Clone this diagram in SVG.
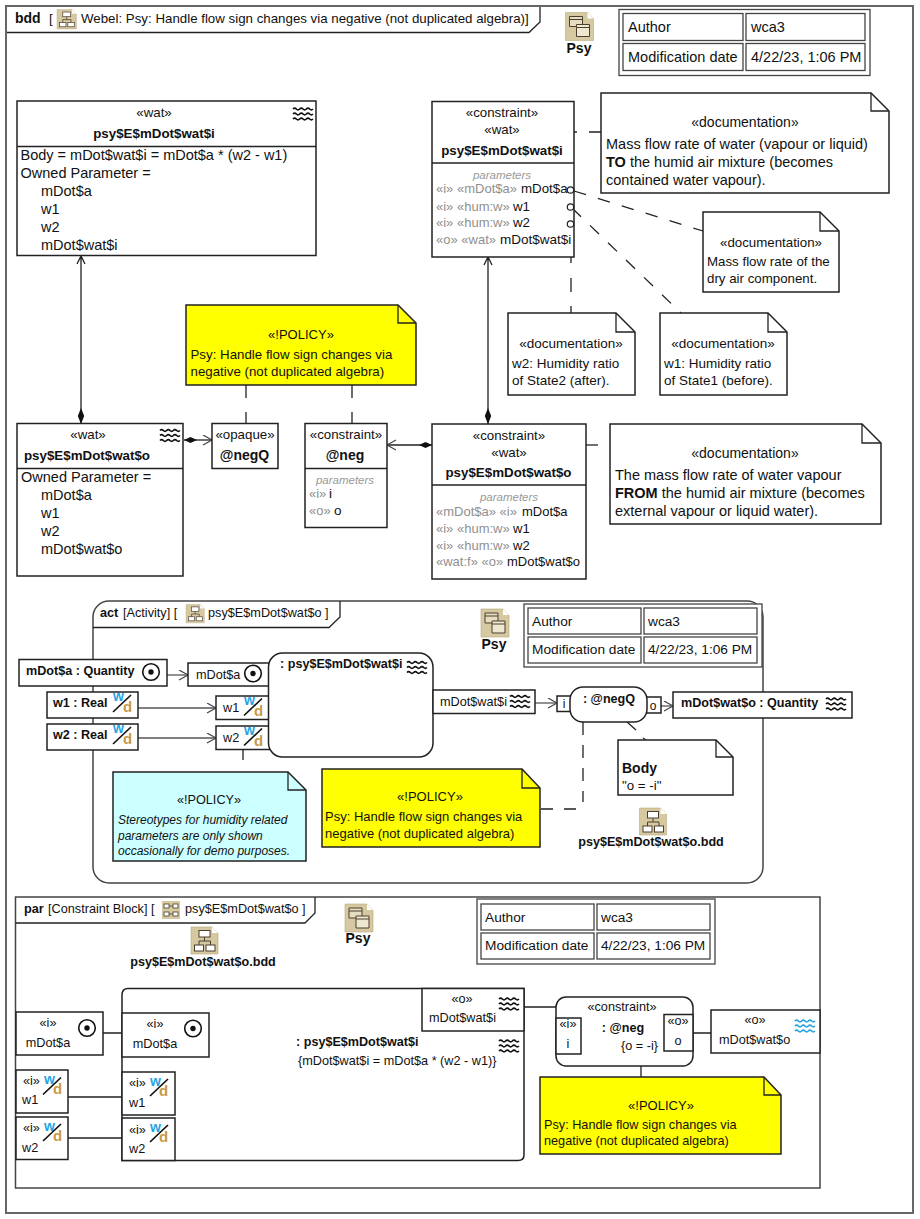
<svg xmlns="http://www.w3.org/2000/svg" width="920" height="1219" viewBox="0 0 920 1219">
<style>
text{font-family:"Liberation Sans",Arial,sans-serif;font-size:14.5px;fill:#111}
.b{font-weight:bold}
.m{text-anchor:middle}
.g{fill:#8f8f8f}
.st{font-size:13.3px}
.bb{font-size:13.35px;font-weight:bold}
.p{font-size:11.5px;font-style:italic;fill:#999;text-anchor:middle}
.n{font-size:13.3px}
.n3{font-size:13px}
.r{font-size:13.5px}
.h{font-size:12.7px}
.hb{font-size:12.6px;font-weight:bold}
.tb{font-size:13.7px}
.i{font-size:12px;font-style:italic}
.pm{font-size:13px}
.wl{font-size:14px;font-weight:bold;fill:#29a3e0}
.dl{font-size:15px;font-weight:bold;fill:#c89a48}
.box{fill:#fff;stroke:#222;stroke-width:1.5}
.tbl{fill:#fff;stroke:#444;stroke-width:1.3}
.note{stroke:#222;stroke-width:1.5;fill:#fff}
.y{fill:#ffff00}
.c{fill:#ccffff}
.l{fill:none;stroke:#222;stroke-width:1.3}
.gl{fill:none;stroke:#555;stroke-width:1.3}
.d{fill:none;stroke:#222;stroke-width:1.3;stroke-dasharray:12.500 12.500}
.fr{fill:none;stroke:#666;stroke-width:2}
.ff{fill:none;stroke:#444;stroke-width:1.5}
.sl{stroke:#111;stroke-width:1.7}
</style>
<defs>
<marker id="open" markerWidth="12" markerHeight="12" refX="10" refY="5.500" orient="auto" markerUnits="userSpaceOnUse"><path d="M1 0.500L10 5.500L1 10.500" fill="none" stroke="#444" stroke-width="1.200"/></marker>
<path id="w3" d="M0 2q1.670-1.700 3.330 0t3.330 0 3.330 0 3.330 0 3.330 0 3.330 0M0 7q1.670-1.700 3.330 0t3.330 0 3.330 0 3.330 0 3.330 0 3.330 0M0 12q1.670-1.700 3.330 0t3.330 0 3.330 0 3.330 0 3.330 0 3.330 0" fill="none"/>
<use id="wave" href="#w3" stroke="#111" stroke-width="1.700"/>
<use id="waveb" href="#w3" stroke="#29a3e0" stroke-width="1.700"/>
<g id="dot"><circle r="8.300" fill="#fff" stroke="#111" stroke-width="1.600"/><circle r="2.700" fill="#111"/></g>
<g id="dg"><path d="M0 0H21L27 6V27H0Z" fill="#d6c8a0" stroke="#b8a97f" stroke-width=".6"/><path d="M21 0L27 6H21Z" fill="#fff"/><g fill="#fff" stroke="#4a4030" stroke-width="1"><rect x="8" y="3.500" width="11" height="6.500"/><rect x="3.500" y="18" width="9" height="6"/><rect x="15" y="18" width="9" height="6"/></g><path d="M13.500 10V14M8 18V14H19.500V18" fill="none" stroke="#4a4030" stroke-width="1"/></g>
<g id="pkg"><path d="M0 0H22L28 6V28H0Z" fill="#d6c8a0" stroke="#b8a97f" stroke-width=".6"/><path d="M22 0L28 6H22Z" fill="#fff"/><g fill="#e6dcc0" stroke="#4a4030" stroke-width="1"><path d="M4 4H17V14H4Z"/><path d="M4 7H17"/><path d="M11 15V12H24V24H11Z" fill="#efe8d0"/><path d="M11 15H24"/></g></g>
<g id="pb"><path d="M0 0H18V18H0Z" fill="#d6c8a0"/><g fill="#fff" stroke="#4a4030" stroke-width=".8"><rect x="2" y="3" width="5" height="4"/><rect x="11" y="3" width="5" height="4"/><rect x="2" y="11" width="5" height="4"/><rect x="11" y="11" width="5" height="4"/></g><path d="M7 5H11M7 13H11" stroke="#4a4030" stroke-width=".8"/></g>
<path id="sl" d="M0 19L18 2" class="sl"/>
</defs>
<rect width="920" height="1219" fill="#fff"/>

<g id="frame-bdd">
<rect class="fr" x="6" y="6" width="907" height="1207"/>
<path class="l" d="M7 32.500H529L540 22V7"/>
<text x="15" y="23" class="b" style="font-size:14px">bdd</text><text x="49" y="23" class="n">[</text>
<use href="#dg" transform="translate(57 9.500) scale(.72)"/>
<text x="81" y="23" class="n">Webel: Psy: Handle flow sign changes via negative (not duplicated algebra)]</text>
</g>
<g id="pkg-top"><use href="#pkg" transform="translate(565.500 12.500)"/><text x="579" y="53" class="b m" style="font-size:14px">Psy</text></g>
<g id="table-top">
<rect class="tbl" x="619" y="9.500" width="251" height="66"/>
<rect class="tbl" x="623" y="13.500" width="120" height="27"/><rect class="tbl" x="746" y="13.500" width="119" height="27"/>
<rect class="tbl" x="623" y="43.500" width="120" height="27"/><rect class="tbl" x="746" y="43.500" width="119" height="27"/>
<text x="628" y="32">Author</text><text x="751" y="32">wca3</text><text x="628" y="62">Modification date</text><text x="751" y="62">4/22/23, 1:06 PM</text>
</g>

<g id="connectors">
<path class="l" d="M81 256V424M77 264L81 256L85 264"/>
<path d="M81 424l-3.200-8 3.200-8 3.200 8z" fill="#111"/>
<path class="l" d="M488 257V424M484 265L488 257L492 265"/>
<path d="M488 424l-3.200-8 3.200-8 3.200 8z" fill="#111"/>
<path class="l" d="M574 132h3M589 132H601"/>
<path class="d" d="M574 191L703 231"/>
<path class="d" d="M572 208L681 313"/>
<path class="l" d="M571 237V263M571 278V292M571 306V313"/>
<path class="l" d="M246 385V398M246 412V424"/>
<path class="l" d="M352 385V398M352 412V424"/>
<path class="l" d="M184 440H212" marker-end="url(#open)"/>
<path d="M184 440l6.500-3 6.500 3-6.500 3z" fill="#111"/>
<path class="l" d="M432 445H387" marker-end="url(#open)"/>
<path d="M432 445l-6.500-3-6.500 3 6.500 3z" fill="#111"/>
<path class="l" d="M586 445h12"/>
</g>

<g id="block-i">
<rect class="box" x="17" y="101" width="299" height="154.500"/><path class="l" d="M17 146.500H316"/>
<text x="154" y="117" class="m st">«wat»</text><text x="154" y="138" class="m bb">psy$E$mDot$wat$i</text>
<use href="#wave" transform="translate(293 107)"/>
<text x="20.500" y="160">Body = mDot$wat$i = mDot$a * (w2 - w1)</text>
<text x="20.500" y="178">Owned Parameter =</text>
<text x="41" y="196">mDot$a</text><text x="41" y="214">w1</text><text x="41" y="232">w2</text><text x="41" y="250">mDot$wat$i</text>
</g>
<g id="constraint-i">
<rect class="box" x="432" y="101.500" width="142" height="155.500"/><path class="l" d="M432 163H574"/>
<text x="502" y="117" class="m st">«constraint»</text><text x="502" y="134" class="m st">«wat»</text><text x="502" y="155" class="m bb">psy$E$mDot$wat$i</text>
<text x="502" y="179" class="p">parameters</text>
<text x="436" y="193" class="g pm">«i» «mDot$a»</text><text x="521" y="193" class="n">mDot$a</text>
<text x="436" y="211" class="g pm">«i» «hum:w»</text><text x="513" y="211" class="n">w1</text>
<text x="436" y="227" class="g pm">«i» «hum:w»</text><text x="513" y="227" class="n">w2</text>
<text x="436" y="244" class="g pm">«o»  «wat»</text><text x="500" y="244" class="r">mDot$wat$i</text>
<g fill="none" stroke="#222" stroke-width="1.200"><circle cx="570.500" cy="190" r="3.200"/><circle cx="570.500" cy="207" r="3.200"/><circle cx="570.500" cy="224" r="3.200"/></g>
</g>
<g id="doc-1"><path class="note" d="M601 93H871L889 111V193H601Z"/><path class="l" d="M871 93V111H889"/>
<text x="745" y="127" class="m" style="font-size:14px">«documentation»</text><text x="606" y="149">Mass flow rate of water (vapour or liquid)</text><text x="606" y="167"><tspan class="b">TO</tspan> the humid air mixture (becomes</text><text x="606" y="185">contained water vapour).</text></g>
<g id="doc-2"><path class="note" d="M703 212H820L839 231V292H703Z"/><path class="l" d="M820 212V231H839"/>
<text x="771" y="247" class="m n">«documentation»</text><text x="707" y="266" class="n">Mass flow rate of the</text><text x="707" y="283" class="n">dry air component.</text></g>
<g id="doc-w2"><path class="note" d="M508 313H616L635 332V395H508Z"/><path class="l" d="M616 313V332H635"/>
<text x="571" y="348" class="m r">«documentation»</text><text x="512" y="368" class="r">w2: Humidity ratio</text><text x="512" y="385" class="r">of State2 (after).</text></g>
<g id="doc-w1"><path class="note" d="M660 313H768L787 332V395H660Z"/><path class="l" d="M768 313V332H787"/>
<text x="723" y="348" class="m r">«documentation»</text><text x="664" y="368" class="r">w1: Humidity ratio</text><text x="664" y="385" class="r">of State1 (before).</text></g>
<g id="policy-1"><path class="note y" d="M186 305H398L416 323V385H186Z"/><path class="l" d="M398 305V323H416"/>
<text x="301" y="339" class="m n3">«!POLICY»</text><text x="190.500" y="359" class="n">Psy: Handle flow sign changes via</text><text x="190.500" y="376" class="n">negative (not duplicated algebra)</text></g>
<g id="block-o">
<rect class="box" x="17" y="423.500" width="166" height="152.500"/><path class="l" d="M17 468.500H183"/>
<text x="88" y="439" class="m st">«wat»</text><text x="87" y="460" class="m bb">psy$E$mDot$wat$o</text>
<use href="#wave" transform="translate(160 428.500)"/>
<text x="21" y="482">Owned Parameter =</text>
<text x="41" y="500">mDot$a</text><text x="41" y="518">w1</text><text x="41" y="536">w2</text><text x="41" y="554">mDot$wat$o</text>
</g>
<g id="opaque"><rect class="box" x="212" y="423.500" width="66" height="45"/><text x="245" y="439" class="m st">«opaque»</text><text x="244.500" y="460" class="m b" style="font-size:14px">@negQ</text></g>
<g id="neg"><rect class="box" x="305" y="423.500" width="82" height="104"/><path class="l" d="M305 468.500H387"/>
<text x="346" y="439" class="m st">«constraint»</text><text x="345" y="460" class="m b" style="font-size:14px">@neg</text>
<text x="345" y="484" class="p">parameters</text><text x="309" y="498" class="g pm">«i»</text><text x="329" y="498" class="r">i</text><text x="309" y="515" class="g pm">«o»</text><text x="334" y="515" class="r">o</text></g>
<g id="constraint-o">
<rect class="box" x="432" y="424" width="154" height="155"/><path class="l" d="M432 485H586"/>
<text x="509" y="440" class="m st">«constraint»</text><text x="509" y="457" class="m st">«wat»</text><text x="508.500" y="477" class="m bb">psy$E$mDot$wat$o</text>
<text x="509" y="501" class="p">parameters</text>
<text x="436" y="516" class="g pm">«mDot$a» «i»</text><text x="522" y="516" class="pm">mDot$a</text>
<text x="436" y="533" class="g pm">«i» «hum:w»</text><text x="513" y="533" class="pm">w1</text>
<text x="436" y="550" class="g pm">«i» «hum:w»</text><text x="513" y="550" class="pm">w2</text>
<text x="436" y="566" class="g pm">«wat:f» «o»</text><text x="507" y="566" class="pm">mDot$wat$o</text>
</g>
<g id="doc-3"><path class="note" d="M610 424H862L881 443V524H610Z"/><path class="l" d="M862 424V443H881"/>
<text x="745" y="458" class="m" style="font-size:14px">«documentation»</text><text x="615" y="480">The mass flow rate of water vapour</text><text x="615" y="498"><tspan class="b">FROM</tspan> the humid air mixture (becomes</text><text x="615" y="516">external vapour or liquid water).</text></g>

<g id="frame-act">
<rect x="93" y="601" width="670" height="282" rx="16" class="ff"/>
<path class="l" d="M93 627.500H329L340 617V601"/>
<text x="100" y="617" class="b h">act</text><text x="123" y="617" class="h">[Activity]  [</text>
<use href="#dg" transform="translate(186 604.500) scale(.68)"/>
<text x="208" y="617" class="h">psy$E$mDot$wat$o ]</text>
</g>
<g id="pkg-act"><use href="#pkg" transform="translate(481 609)"/><text x="494" y="649" class="b m" style="font-size:14px">Psy</text></g>
<g id="table-act">
<rect class="tbl" x="524" y="604" width="238" height="63"/>
<rect class="tbl" x="528" y="608" width="113" height="26"/><rect class="tbl" x="644" y="608" width="113" height="26"/>
<rect class="tbl" x="528" y="637" width="113" height="26"/><rect class="tbl" x="644" y="637" width="113" height="26"/>
<text x="532" y="626" class="tb">Author</text><text x="648" y="626" class="tb">wca3</text><text x="532" y="654" class="tb">Modification date</text><text x="648" y="654" class="tb">4/22/23, 1:06 PM</text>
</g>
<g id="act-connectors">
<path class="gl" d="M167 675H188" marker-end="url(#open)"/>
<path class="gl" d="M138 708H216" marker-end="url(#open)"/>
<path class="gl" d="M138 738H216" marker-end="url(#open)"/>
<path class="gl" d="M535 703H557" marker-end="url(#open)"/>
<path class="gl" d="M661 706H673" marker-end="url(#open)"/>
<path class="l" d="M243 750V760"/>
<path class="l" d="M583 722V735M583 745V758M583 768V781M583 791V802M576 809H564M553 809H541"/>
<path class="l" d="M627 722L636 730M643 738L646 740"/>
</g>
<g id="act-a"><rect class="box" x="19" y="659.500" width="148" height="26.500"/><text x="26" y="675" class="hb">mDot$a : Quantity</text><use href="#dot" transform="translate(151 672)"/></g>
<g id="act-w1"><rect class="box" x="47" y="692" width="91" height="26"/><text x="53" y="707" class="hb">w1 : Real</text><text x="113" y="701" class="wl">w</text><text x="123" y="712" class="dl">d</text><use href="#sl" transform="translate(113 693)"/></g>
<g id="act-w2"><rect class="box" x="47" y="724" width="91" height="26"/><text x="53" y="739" class="hb">w2 : Real</text><text x="113" y="733" class="wl">w</text><text x="123" y="744" class="dl">d</text><use href="#sl" transform="translate(113 725)"/></g>
<g id="act-pa"><rect class="box" x="188" y="663" width="84" height="23"/><text x="196" y="679" class="h">mDot$a</text><use href="#dot" transform="translate(253 673.500)"/></g>
<g id="act-p1"><rect class="box" x="216" y="696" width="56" height="23.500"/><text x="223" y="712" class="h">w1</text><text x="244" y="705" class="wl">w</text><text x="254" y="716" class="dl">d</text><use href="#sl" transform="translate(244 696.500)"/></g>
<g id="act-p2"><rect class="box" x="216" y="726" width="56" height="23.500"/><text x="223" y="742" class="h">w2</text><text x="244" y="735" class="wl">w</text><text x="254" y="746" class="dl">d</text><use href="#sl" transform="translate(244 726.500)"/></g>
<g id="act-main"><rect class="box" x="268.500" y="653" width="164.500" height="104" rx="14"/><text x="280" y="668" class="hb">: psy$E$mDot$wat$i</text><use href="#wave" transform="translate(407 660.500)"/></g>
<g id="act-out"><rect class="box" x="433" y="690" width="102" height="23.500"/><text x="440" y="706" class="h">mDot$wat$i</text><use href="#wave" transform="translate(510 694.500)"/></g>
<g id="act-neg"><rect class="box" x="557" y="696" width="14" height="15.500"/><text x="564" y="708" class="m" style="font-size:12px">i</text><rect class="box" x="646" y="697" width="15" height="16"/><text x="653" y="710" class="m" style="font-size:12px">o</text><rect class="box" x="570" y="687" width="77" height="35" rx="13"/><text x="609" y="703" class="m hb">: @negQ</text></g>
<g id="act-res"><rect class="box" x="673" y="692" width="179" height="26"/><text x="681" y="707" class="hb">mDot$wat$o : Quantity</text><use href="#wave" transform="translate(826 697)"/></g>
<g id="act-body"><path class="note" d="M618 740H716L733 757V795H618Z"/><path class="l" d="M716 740V757H733"/><text x="622" y="773" class="b" style="font-size:14px">Body</text><text x="622" y="790" class="n">"o = -i"</text></g>
<g id="act-cyan"><path class="note c" d="M113 772H288L306 790V861H113Z"/><path class="l" d="M288 772V790H306"/>
<text x="209" y="804" class="m h">«!POLICY»</text><text x="118" y="824" class="i">Stereotypes for humidity related</text><text x="118" y="840" class="i">parameters are only shown</text><text x="118" y="855" class="i">occasionally for demo purposes.</text></g>
<g id="act-policy"><path class="note y" d="M322 769H522L540 788V847H322Z"/><path class="l" d="M522 769V788H540"/>
<text x="430" y="801" class="m n3">«!POLICY»</text><text x="325" y="821" class="n3">Psy: Handle flow sign changes via</text><text x="325" y="838" class="n3">negative (not duplicated algebra)</text></g>
<g id="act-bdd"><use href="#dg" transform="translate(639.500 808)"/><text x="651" y="846" class="hb m">psy$E$mDot$wat$o.bdd</text></g>

<g id="frame-par">
<rect x="15.500" y="897" width="804.500" height="291" class="ff"/>
<path class="l" d="M15.500 923H305L315 913V897"/>
<text x="24" y="913" class="b h">par</text><text x="48" y="913" class="h">[Constraint Block]  [</text>
<use href="#pb" transform="translate(162 901)"/>
<text x="185" y="913" class="h">psy$E$mDot$wat$o ]</text>
</g>
<g id="pkg-par"><use href="#pkg" transform="translate(345 904)"/><text x="358" y="943" class="b m" style="font-size:14px">Psy</text></g>
<g id="table-par">
<rect class="tbl" x="477" y="899" width="238" height="65"/>
<rect class="tbl" x="481" y="904" width="113" height="26"/><rect class="tbl" x="597" y="904" width="113" height="26"/>
<rect class="tbl" x="481" y="933" width="113" height="26"/><rect class="tbl" x="597" y="933" width="113" height="26"/>
<text x="485" y="922" class="tb">Author</text><text x="601" y="922" class="tb">wca3</text><text x="485" y="950" class="tb">Modification date</text><text x="601" y="950" class="tb">4/22/23, 1:06 PM</text>
</g>
<g id="par-bdd"><use href="#dg" transform="translate(191 927)"/><text x="203" y="966" class="hb m">psy$E$mDot$wat$o.bdd</text></g>
<g id="par-connectors">
<path class="l" d="M103 1033H122M68 1097H122M68 1138H122M524 1007H556M693 1033H711M641 1066V1077"/>
</g>
<g id="par-main"><path class="box" d="M128 988.500H524V1155Q524 1160.500 518 1160.500H122V995Q122 988.500 128 988.500Z"/>
<text x="296" y="1046" class="hb">: psy$E$mDot$wat$i</text><text x="298" y="1065" class="h">{mDot$wat$i = mDot$a * (w2 - w1)}</text><use href="#wave" transform="translate(499 1039)"/></g>
<g id="par-a"><rect class="box" x="16" y="1012" width="87" height="43"/><text x="48" y="1027" class="m h">«i»</text><text x="48" y="1047" class="m h">mDot$a</text><use href="#dot" transform="translate(87 1028)"/></g>
<g id="par-w1"><rect class="box" x="16" y="1070" width="52" height="43"/><text x="23" y="1085" class="h">«i»</text><text x="22" y="1104" class="h">w1</text><text x="44" y="1084" class="wl">w</text><text x="53" y="1094" class="dl">d</text><use href="#sl" transform="translate(43 1075.500)"/></g>
<g id="par-w2"><rect class="box" x="16" y="1117" width="52" height="42.500"/><text x="23" y="1132" class="h">«i»</text><text x="22" y="1152" class="h">w2</text><text x="44" y="1131" class="wl">w</text><text x="53" y="1141" class="dl">d</text><use href="#sl" transform="translate(43 1122)"/></g>
<g id="par-pa"><rect class="box" x="122" y="1013" width="87" height="44"/><text x="155" y="1028" class="m h">«i»</text><text x="155" y="1048" class="m h">mDot$a</text><use href="#dot" transform="translate(193 1028.500)"/></g>
<g id="par-p1"><rect class="box" x="122" y="1072" width="53" height="43"/><text x="129" y="1087" class="h">«i»</text><text x="129" y="1107" class="h">w1</text><text x="150" y="1086" class="wl">w</text><text x="159" y="1096" class="dl">d</text><use href="#sl" transform="translate(150 1077)"/></g>
<g id="par-p2"><rect class="box" x="122" y="1118" width="53" height="42.500"/><text x="129" y="1134" class="h">«i»</text><text x="129" y="1153" class="h">w2</text><text x="150" y="1132" class="wl">w</text><text x="159" y="1142" class="dl">d</text><use href="#sl" transform="translate(150 1123)"/></g>
<g id="par-out"><rect class="box" x="422" y="988.500" width="102" height="42.500"/><text x="462" y="1003" class="m h">«o»</text><text x="429" y="1022" class="h">mDot$wat$i</text><use href="#wave" transform="translate(499 997)"/></g>
<g id="par-neg"><rect class="box" x="556" y="997" width="137" height="69" rx="10"/><text x="622" y="1011" class="m h">«constraint»</text><text x="623" y="1032" class="hb m">: @neg</text><text x="621" y="1050" class="h">{o = -i}</text>
<rect class="box" x="556" y="1018" width="25" height="36"/><text x="568" y="1028" class="m h">«i»</text><text x="568" y="1048" class="m h">i</text>
<rect class="box" x="664" y="1014.500" width="29" height="36.500"/><text x="678" y="1025" class="m h">«o»</text><text x="678" y="1045" class="m h">o</text></g>
<g id="par-res"><rect class="box" x="711" y="1010" width="109" height="43"/><text x="755" y="1024" class="m h">«o»</text><text x="719" y="1044" class="h">mDot$wat$o</text><use href="#waveb" transform="translate(795 1019)"/></g>
<g id="par-policy"><path class="note y" d="M540 1077H764L781 1095V1154H540Z"/><path class="l" d="M764 1077V1095H781"/>
<text x="661" y="1110" class="m n3">«!POLICY»</text><text x="544" y="1129" class="h">Psy: Handle flow sign changes via</text><text x="544" y="1145" class="h">negative (not duplicated algebra)</text></g>
</svg>
